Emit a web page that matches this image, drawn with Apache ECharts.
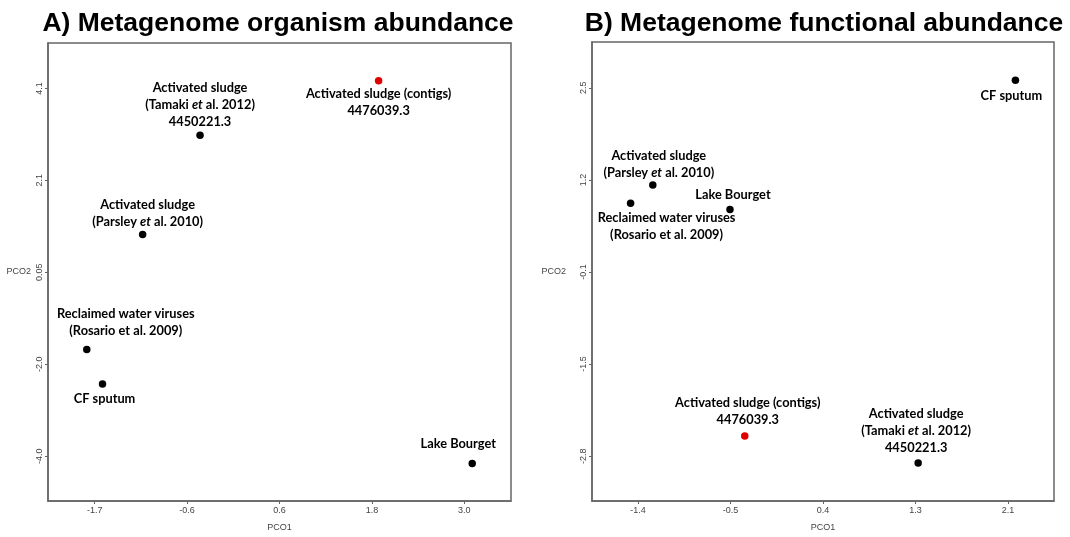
<!DOCTYPE html>
<html><head><meta charset="utf-8">
<script src="https://cdn.jsdelivr.net/npm/echarts@6/dist/echarts.min.js"></script>
<style>html,body{margin:0;padding:0;background:#fff}#c{width:1070px;height:537px}</style>
</head><body><div id="c"></div>
<script>
// ---- data ----
const titleA = 'A) Metagenome organism abundance';
const titleB = 'B) Metagenome functional abundance';
const ticksAX = ['-1.7', '-0.6', '0.6', '1.8', '3.0'];
const ticksAY = ['-4.0', '-2.0', '0.05', '2.1', '4.1'];
const ticksBX = ['-1.4', '-0.5', '0.4', '1.3', '2.1'];
const ticksBY = ['-2.8', '-1.5', '-0.1', '1.2', '2.5'];
const samples = ['contigs', 'tamaki', 'parsley', 'rosario', 'cf', 'lake'];
const pco1A = [1.91, -0.36, -1.09, -1.80, -1.60, 3.10];
const pco2A = [4.27, 3.07, 0.88, -1.65, -2.41, -4.16];
const pco1B = [-0.39, 1.25, -1.26, -1.47, 2.17, -0.53];
const pco2B = [-2.51, -2.90, 1.10, 0.84, 2.61, 0.75];
const sampleLabels = {
  contigs: '{b|Activated sludge (contigs)}\n{b|4476039.3}',
  tamaki: '{b|Activated sludge}\n{b|(Tamaki }{i|et}{b| al. 2012)}\n{b|4450221.3}',
  parsley: '{b|Activated sludge}\n{b|(Parsley }{i|et}{b| al. 2010)}',
  rosario: '{b|Reclaimed water viruses}\n{b|(Rosario et al. 2009)}',
  cf: '{b|CF sputum}',
  lake: '{b|Lake Bourget}'
};

// ---- label placement (style) ----
const placeA = {
  contigs: ['bottom', 0, 1], tamaki: ['top', 0, 1], parsley: ['top', 5, 0],
  rosario: ['top', 39, 6], cf: ['bottom', 2, 3], lake: ['top', -14, 7]
};
const placeB = {
  contigs: ['top', 3, 4], tamaki: ['top', -2, 3], parsley: ['top', 6, 0],
  rosario: ['bottom', 36, 2], cf: ['bottom', -4, 3], lake: ['top', 3, 2]
};

const FONT = 'Lato';
const rich = {
  b: {fontFamily: FONT, fontWeight: 'bold', fontSize: 12.8, color: '#000', lineHeight: 17, align: 'center'},
  i: {fontFamily: FONT, fontWeight: 'bold', fontStyle: 'italic', fontSize: 12.8, color: '#000', lineHeight: 17, align: 'center'}
};

function tickPos(labels) {
  const a = parseFloat(labels[0]), b = parseFloat(labels[labels.length - 1]);
  const n = labels.length - 1;
  return labels.map((_, i) => a + (b - a) * i / n);
}
function fmt(labels) {
  const pos = tickPos(labels);
  return v => {
    let best = 0;
    pos.forEach((p, i) => { if (Math.abs(p - v) < Math.abs(pos[best] - v)) best = i; });
    return labels[best];
  };
}

const border = '#666';
const axisCommon = {
  type: 'value', splitLine: {show: false},
  axisLine: {show: true, onZero: false, lineStyle: {color: border, width: 1.5}},
  nameTextStyle: {fontFamily: 'Liberation Sans', fontSize: 9, color: '#444'}
};
function xAx(g, labels, min, max) {
  const pos = tickPos(labels);
  return Object.assign({}, axisCommon, {
    gridIndex: g, min, max, name: 'PCO1', nameLocation: 'middle', nameGap: 22,
    axisTick: {show: true, length: 3, customValues: pos, lineStyle: {color: border}},
    axisLabel: {customValues: pos, formatter: fmt(labels), fontFamily: 'Liberation Sans', fontSize: 9, color: '#444', margin: 5}
  });
}
function yAx(g, labels, min, max, gap) {
  const pos = tickPos(labels);
  return Object.assign({}, axisCommon, {
    gridIndex: g, min, max, name: 'PCO2', nameLocation: 'middle', nameGap: gap, nameRotate: 0,
    axisTick: {show: true, length: 3, customValues: pos, lineStyle: {color: border}},
    axisLabel: {customValues: pos, formatter: fmt(labels), rotate: 90, fontFamily: 'Liberation Sans', fontSize: 9, color: '#444', margin: 4}
  });
}

function series(g, xs, ys, place) {
  return {
    type: 'scatter', xAxisIndex: g, yAxisIndex: g, symbolSize: 7.5,
    data: samples.map((s, i) => ({
      value: [xs[i], ys[i]],
      itemStyle: {color: s === 'contigs' ? '#e00000' : '#000', opacity: 1},
      label: {
        show: true, position: place[s][0], offset: [place[s][1], 0], distance: place[s][2],
        formatter: sampleLabels[s], rich: rich
      }
    }))
  };
}

const chart = echarts.init(document.getElementById('c'), null, {renderer: 'canvas'});
chart.setOption({
  animation: false,
  title: [
    {text: titleA, left: 273, textAlign: 'center', top: 5,
     textStyle: {fontFamily: 'Liberation Sans', fontWeight: 'bold', fontSize: 26.5, color: '#000'}},
    {text: titleB, left: 819, textAlign: 'center', top: 5,
     textStyle: {fontFamily: 'Liberation Sans', fontWeight: 'bold', fontSize: 26.5, color: '#000'}}
  ],
  grid: [
    {left: 48, top: 43, width: 463, height: 460, show: true, borderColor: border, borderWidth: 1.5},
    {left: 592, top: 42, width: 462, height: 461, show: true, borderColor: border, borderWidth: 1.5}
  ],
  xAxis: [xAx(0, ticksAX, -2.293, 3.593), xAx(1, ticksBX, -1.835, 2.535)],
  yAxis: [yAx(0, ticksAY, -4.987, 5.1, 17), yAx(1, ticksBY, -3.445, 3.159, 26)],
  series: [series(0, pco1A, pco2A, placeA), series(1, pco1B, pco2B, placeB)]
});
</script>
</body></html>
